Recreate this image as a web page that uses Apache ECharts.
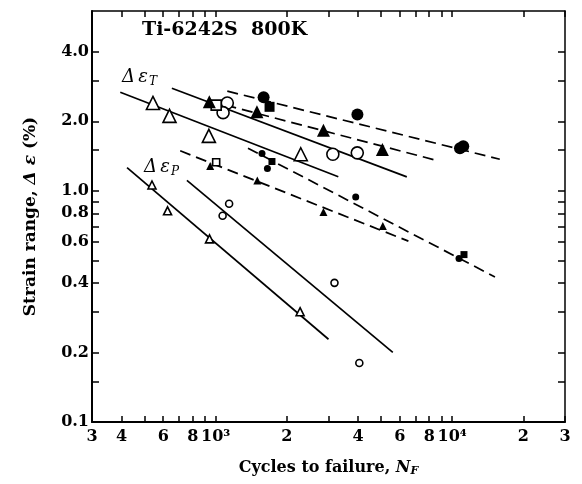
<!DOCTYPE html>
<html>
<head>
<meta charset="utf-8">
<script src="https://cdn.jsdelivr.net/npm/echarts@6/dist/echarts.min.js"></script>
<style>
html,body{margin:0;padding:0;background:#fff;}
#main{width:582px;height:484px;}
</style>
</head>
<body>
<div id="main"></div>
<script>
// tick values
var xTicks = [300, 400, 500, 600, 700, 800, 900, 1000, 2000, 3000, 4000, 5000, 6000, 7000, 8000, 9000, 10000, 20000, 30000];
var xLabels = [300, 400, 600, 800, 1000, 2000, 4000, 6000, 8000, 10000, 20000, 30000];
var yTicks = [0.1, 0.15, 0.2, 0.3, 0.4, 0.5, 0.6, 0.7, 0.8, 0.9, 1, 1.5, 2, 3, 4];
var yLabels = [0.1, 0.2, 0.4, 0.6, 0.8, 1, 2, 4];

// total strain range (large symbols)
var totOpenTri = [[543, 2.40], [638, 2.11], [936, 1.73], [2290, 1.44]];
var totOpenCirc = [[1120, 2.40], [1075, 2.18], [3130, 1.44], [3970, 1.46]];
var totOpenSq = [[1005, 2.35]];
var totFillTri = [[940, 2.43], [1495, 2.20], [2855, 1.83], [5070, 1.51]];
var totFillCirc = [[1595, 2.54], [3975, 2.14], [10790, 1.53], [11140, 1.56]];
var totFillSq = [[1690, 2.31]];

// plastic strain range (small symbols)
var plOpenTri = [[538, 1.06], [626, 0.82], [942, 0.62], [2275, 0.30]];
var plOpenCirc = [[1140, 0.88], [1070, 0.78], [3180, 0.40], [4050, 0.18]];
var plOpenSq = [[1005, 1.33]];
var plFillTri = [[948, 1.28], [1500, 1.11], [2855, 0.81], [5090, 0.705]];
var plFillCirc = [[1570, 1.45], [1655, 1.25], [3910, 0.94], [10690, 0.51]];
var plFillSq = [[1730, 1.34], [11220, 0.53]];

// fitted lines (end points)
var fitTotOpenTri = [[395, 2.67], [3300, 1.15]];
var fitTotOpenCirc = [[653, 2.78], [6430, 1.15]];
var fitTotFillTri = [[1100, 2.35], [8460, 1.36]];
var fitTotFillCirc = [[1120, 2.70], [15900, 1.37]];
var fitPlOpenTri = [[422, 1.26], [3000, 0.228]];
var fitPlOpenCirc = [[756, 1.11], [5610, 0.20]];
var fitPlFillTri = [[708, 1.49], [6530, 0.606]];
var fitPlFillCirc = [[1370, 1.53], [15170, 0.424]];

var FONT = 'DejaVu Serif';
var xLabelMap = {300: '3', 400: '4', 600: '6', 800: '8', 1000: '10\u00b3', 2000: '2', 4000: '4',
	6000: '6', 8000: '8', 10000: '10\u2074', 20000: '2', 30000: '3'};

function fitLine(data, dashed) {
	return {
		type: 'line', data: data, symbol: 'none', silent: true, z: 2,
		lineStyle: {color: '#000', width: 1.7, type: dashed ? [11, 6] : 'solid'}
	};
}
function marks(data, shape, size, filled) {
	return {
		type: 'scatter', data: data, symbol: shape, symbolSize: size, z: 5,
		itemStyle: {
			color: filled ? '#000' : '#fff',
			opacity: 1,
			borderColor: '#000',
			borderWidth: filled ? 0 : 1.6
		}
	};
}

var axisCommon = {
	type: 'log', logBase: 10,
	axisLine: {show: true, lineStyle: {color: '#000', width: 2}},
	splitLine: {show: false}
};

var myChart = echarts.init(document.getElementById('main'));
myChart.setOption({
	animation: false,
	backgroundColor: '#fff',
	grid: {left: 92, right: 17, top: 11, bottom: 62},
	xAxis: [
		Object.assign({}, axisCommon, {
			min: 300, max: 30000, position: 'bottom',
			name: 'Cycles to failure, {i|N}{s|F}',
			nameLocation: 'middle', nameGap: 36,
			nameTextStyle: {
				fontFamily: FONT, fontSize: 16, fontWeight: 'bold', color: '#000',
				rich: {
					i: {fontFamily: FONT, fontSize: 16, fontWeight: 'bold', fontStyle: 'italic', color: '#000'},
					s: {fontFamily: FONT, fontSize: 11, fontWeight: 'bold', fontStyle: 'italic', color: '#000', padding: [8, 0, 0, 0]}
				}
			},
			axisTick: {show: true, inside: true, length: 6, customValues: xTicks, lineStyle: {color: '#000', width: 1.5}},
			axisLabel: {
				show: true, customValues: xLabels, margin: 7,
				fontFamily: FONT, fontSize: 16, fontWeight: 'bold', color: '#000',
				formatter: function (v) { return xLabelMap[Math.round(v)] || ''; }
			}
		}),
		Object.assign({}, axisCommon, {
			min: 300, max: 30000, position: 'top',
			axisLine: {show: true, lineStyle: {color: '#000', width: 1.5}},
			axisTick: {show: true, inside: true, length: 6, customValues: xTicks, lineStyle: {color: '#000', width: 1.5}},
			axisLabel: {show: false}
		})
	],
	yAxis: [
		Object.assign({}, axisCommon, {
			min: 0.1, max: 6, position: 'left',
			name: 'Strain range, {i|\u0394 \u03b5} (%)',
			nameLocation: 'middle', nameGap: 53,
			nameTextStyle: {
				fontFamily: FONT, fontSize: 17, fontWeight: 'bold', color: '#000',
				rich: {
					i: {fontFamily: FONT, fontSize: 17, fontWeight: 'bold', fontStyle: 'italic', color: '#000'}
				}
			},
			axisTick: {show: true, inside: true, length: 7, customValues: yTicks, lineStyle: {color: '#000', width: 1.5}},
			axisLabel: {
				show: true, customValues: yLabels, margin: 3,
				fontFamily: FONT, fontSize: 16, fontWeight: 'bold', color: '#000',
				formatter: function (v) { return v.toFixed(1); }
			}
		}),
		Object.assign({}, axisCommon, {
			min: 0.1, max: 6, position: 'right',
			axisLine: {show: true, lineStyle: {color: '#000', width: 1.5}},
			axisTick: {show: true, inside: true, length: 7, customValues: yTicks, lineStyle: {color: '#000', width: 1.5}},
			axisLabel: {show: false}
		})
	],
	graphic: [
		{type: 'text', left: 142, top: 21, style: {text: 'Ti-6242S  800K', font: 'bold 19px "DejaVu Serif"', fill: '#000'}},
		{type: 'text', left: 122, top: 68, style: {
			text: '{d|\u0394} {e|\u03b5}{s|T}',
			rich: {
				d: {font: 'italic 18px "DejaVu Serif"', fill: '#000'},
				e: {font: 'italic 18px "DejaVu Serif"', fill: '#000'},
				s: {font: 'italic 12px "DejaVu Serif"', fill: '#000', padding: [9, 0, 0, 1]}
			}
		}},
		{type: 'text', left: 144, top: 158, style: {
			text: '{d|\u0394} {e|\u03b5}{s|P}',
			rich: {
				d: {font: 'italic 18px "DejaVu Serif"', fill: '#000'},
				e: {font: 'italic 18px "DejaVu Serif"', fill: '#000'},
				s: {font: 'italic 12px "DejaVu Serif"', fill: '#000', padding: [9, 0, 0, 1]}
			}
		}}
	],
	series: [
		fitLine(fitTotOpenTri, false),
		fitLine(fitTotOpenCirc, false),
		fitLine(fitTotFillTri, true),
		fitLine(fitTotFillCirc, true),
		fitLine(fitPlOpenTri, false),
		fitLine(fitPlOpenCirc, false),
		fitLine(fitPlFillTri, true),
		fitLine(fitPlFillCirc, true),
		marks(totOpenTri, 'triangle', 13, false),
		marks(totOpenCirc, 'circle', 12, false),
		marks(totOpenSq, 'rect', 10, false),
		marks(totFillTri, 'triangle', 13, true),
		marks(totFillCirc, 'circle', 12, true),
		marks(totFillSq, 'rect', 10, true),
		marks(plOpenTri, 'triangle', 8, false),
		marks(plOpenCirc, 'circle', 7, false),
		marks(plOpenSq, 'rect', 7, false),
		marks(plFillTri, 'triangle', 8, true),
		marks(plFillCirc, 'circle', 7, true),
		marks(plFillSq, 'rect', 7, true)
	]
});
</script>
</body>
</html>
